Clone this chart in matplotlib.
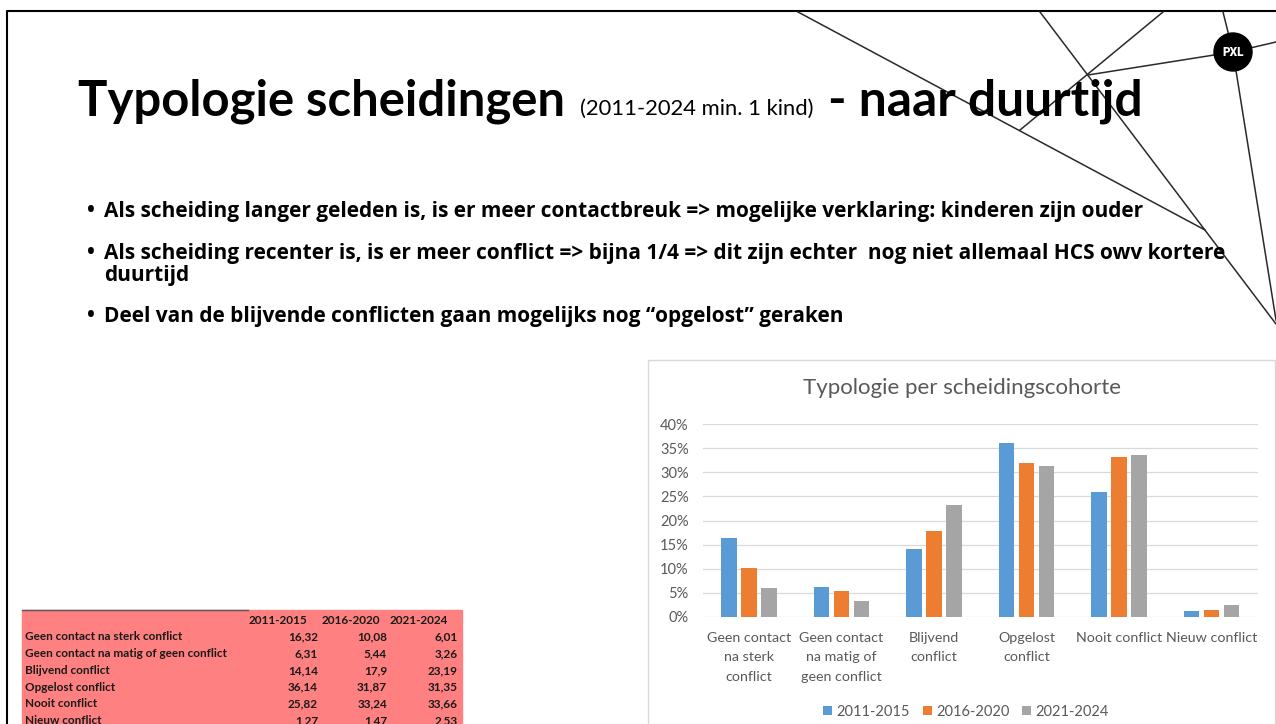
import matplotlib
matplotlib.use("Agg")
import matplotlib.pyplot as plt
from matplotlib.patches import Rectangle, Circle
from matplotlib.ticker import PercentFormatter

# data
categories = ["Geen contact\nna sterk\nconflict", "Geen contact\nna matig of\ngeen conflict",
              "Blijvend\nconflict", "Opgelost\nconflict", "Nooit conflict", "Nieuw conflict"]
table_rows = ["Geen contact na sterk conflict", "Geen contact na matig of geen conflict",
              "Blijvend conflict", "Opgelost conflict", "Nooit conflict", "Nieuw conflict"]
cohorts = ["2011-2015", "2016-2020", "2021-2024"]
v2011 = [16.32, 6.31, 14.14, 36.14, 25.82, 1.27]
v2016 = [10.08, 5.44, 17.9, 31.87, 33.24, 1.47]
v2021 = [6.01, 3.26, 23.19, 31.35, 33.66, 2.53]
series = [v2011, v2016, v2021]
colors = ["#5B9BD5", "#ED7D31", "#A5A5A5"]

bullets = [
    ["Als scheiding langer geleden is, is er meer contactbreuk => mogelijke verklaring: kinderen zijn ouder"],
    ["Als scheiding recenter is, is er meer conflict => bijna 1/4 => dit zijn echter  nog niet allemaal HCS owv kortere",
     "duurtijd"],
    ["Deel van de blijvende conflicten gaan mogelijks nog \u201copgelost\u201d geraken"],
]

W, H = 1276, 724
fig = plt.figure(figsize=(W / 100, H / 100), dpi=100)

# achtergrond in pixelcoordinaten
bg = fig.add_axes([0, 0, 1, 1])
bg.set_xlim(0, W)
bg.set_ylim(H, 0)
bg.axis("off")

# kader van de slide
bg.plot([7, 7, W], [H, 11, 11], color="black", lw=1.5, solid_capstyle="butt")

# decoratieve lijnen
lijn = dict(color="#2a2a2a", lw=1.1)
bg.plot([798, 1205], [12, 230], **lijn)
bg.plot([1040, 1276], [12, 324], **lijn)
bg.plot([1163, 1020], [12, 130], **lijn)
bg.plot([1088, 1233, 1276], [75, 52, 42], **lijn)
bg.plot([1223, 1233, 1276], [12, 52, 320], **lijn)
bg.add_patch(Circle((1233, 52), 19, color="black", zorder=5))
bg.text(1233, 53, "PXL", color="white", fontsize=8.5, fontweight="heavy",
        family="Roboto", ha="center", va="center", zorder=6)

# titel
bg.text(78, 115, "Typologie scheidingen", fontsize=35.3, fontweight="bold",
        family="Lato", va="baseline")
bg.text(580, 115, "(2011-2024 min. 1 kind)", fontsize=15.8, family="Lato", va="baseline")
bg.text(828, 115, "- naar duurtijd", fontsize=35.8, fontweight="bold",
        family="Lato", va="baseline")

# bullets
for y, regels in zip([217, 259, 322], bullets):
    bg.text(87, y, "\u2022", fontsize=15, fontweight="bold", family="Open Sans", va="baseline")
    for j, txt in enumerate(regels):
        bg.text(104, y + j * 22, txt, fontsize=15, fontweight="bold",
                family="Open Sans", va="baseline")

# tabel (linksonder)
bg.add_patch(Rectangle((22, 610), 440, 120, color="#FF8080", zorder=1))
bg.plot([22, 248], [610, 610], color="#555555", lw=1, zorder=2)
tab = dict(fontsize=8.5, fontweight="bold", family="Lato", color="#1a1a1a",
           va="center", zorder=3)
for x, c in zip([307, 380, 448], cohorts):
    bg.text(x, 620, c, ha="right", **tab)
for i, naam in enumerate(table_rows):
    y = 637 + i * 16.7
    bg.text(25, y, naam, ha="left", **tab)
    for x, s in zip([318, 387, 458], series):
        bg.text(x, y, str(s[i]).replace(".", ","), ha="right", **tab)

# kader van de grafiek
bg.add_patch(Rectangle((648, 360), 627, 400, facecolor="white",
                       edgecolor="#d9d9d9", lw=1, zorder=1))
bg.text(962, 388, "Typologie per scheidingscohorte", fontsize=16, family="Lato",
        color="#595959", ha="center", va="center", zorder=3)

# staafgrafiek
ax = fig.add_axes([702.75 / W, 1 - 617 / H, 555 / W, 193 / H])
ax.set_facecolor("none")
x = range(len(categories))
for k, (vals, col, lab) in enumerate(zip(series, colors, cohorts)):
    ax.bar([i + (k - 1) * 0.215 for i in x], [v / 100 for v in vals], width=0.17,
           color=col, label=lab, zorder=3)

ax.set_xlim(-0.5, len(categories) - 0.5)
ax.set_ylim(0, 0.40)
ax.set_yticks([i * 0.05 for i in range(9)])
ax.yaxis.set_major_formatter(PercentFormatter(1.0, decimals=0))
ax.set_xticks(list(x))
ax.set_xticklabels(categories)
ax.grid(axis="y", color="#d9d9d9", lw=0.9, zorder=0)
for s in ax.spines.values():
    s.set_visible(False)
ax.tick_params(axis="both", length=0, labelsize=10.5, labelcolor="#595959")
ax.tick_params(axis="x", labelsize=10.3, pad=10.5)
ax.tick_params(axis="y", pad=10)
for t in ax.get_xticklabels() + ax.get_yticklabels():
    t.set_family("Lato")
for t in ax.get_xticklabels():
    t.set_linespacing(1.75)

leg = ax.legend(loc="center", bbox_to_anchor=(966 / W, 1 - 712 / H),
                bbox_transform=fig.transFigure, ncol=3, frameon=False,
                handlelength=0.6, handleheight=0.6, handletextpad=0.3,
                columnspacing=0.9, prop={"family": "Lato", "size": 10.5})
for t in leg.get_texts():
    t.set_color("#595959")

fig.savefig("out.png", dpi=100)
